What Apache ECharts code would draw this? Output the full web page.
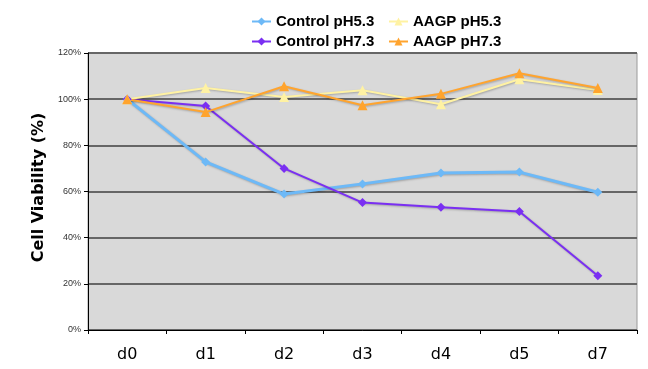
<!DOCTYPE html>
<html><head><meta charset="utf-8">
<script src="https://cdn.jsdelivr.net/npm/echarts@6/dist/echarts.min.js"></script>
<style>html,body{margin:0;padding:0;background:#fff}#c{width:648px;height:369px}</style>
</head><body><div id="c"></div>
<script>
const categories = ['d0','d1','d2','d3','d4','d5','d7'];
const controlPH53 = [100, 72.8, 58.9, 63.3, 68.0, 68.4, 59.7];
const controlPH73 = [100, 97.0, 70.0, 55.2, 53.2, 51.3, 23.5];
const aagpPH53 = [100, 104.8, 100.9, 103.9, 97.8, 108.6, 104.0];
const aagpPH73 = [100, 94.4, 105.6, 97.4, 102.3, 111.2, 104.8];
const yTicks = [0, 20, 40, 60, 80, 100, 120];

const chart = echarts.init(document.getElementById('c'));
function ser(name, data, color, width, symbol, size) {
  return {
    name, type: 'line', data, symbol, symbolSize: size,
    itemStyle: { color },
    lineStyle: { color, width, shadowColor: 'rgba(0,0,0,0.25)', shadowBlur: 2, shadowOffsetX: 1, shadowOffsetY: 1 },
    emphasis: { disabled: true }, animation: false
  };
}
const legendText = { fontFamily: 'Liberation Sans', fontWeight: 'bold', fontSize: 15, color: '#000' };
chart.setOption({
  animation: false,
  legend: [
    { left: 246, top: 9, orient: 'vertical', itemGap: 5, itemWidth: 19, itemHeight: 10,
      data: ['Control pH5.3', 'Control pH7.3'], textStyle: legendText },
    { left: 383, top: 9, orient: 'vertical', itemGap: 5, itemWidth: 19, itemHeight: 10,
      data: ['AAGP pH5.3', 'AAGP pH7.3'], textStyle: legendText }
  ],
  grid: { left: 88, right: 11, top: 53, bottom: 39, containLabel: false,
    show: true, backgroundColor: '#d9d9d9', borderColor: '#9a9a9a', borderWidth: 1 },
  xAxis: {
    type: 'category', data: categories, boundaryGap: true,
    axisLine: { lineStyle: { color: '#000', width: 1 } },
    axisTick: { show: true, length: 4, lineStyle: { color: '#000' } },
    axisLabel: { fontFamily: 'DejaVu Sans', fontSize: 16, color: '#000', margin: 17 }
  },
  yAxis: {
    type: 'value', min: 0, max: 120, interval: 20,
    name: 'Cell Viability (%)', nameLocation: 'middle', nameGap: 41,
    nameTextStyle: { fontFamily: 'DejaVu Sans', fontWeight: 'bold', fontSize: 16, color: '#000', padding: [0, 0, 0, 8] },
    axisLine: { show: true, lineStyle: { color: '#000', width: 1 } },
    axisTick: { show: true, length: 4, lineStyle: { color: '#000' } },
    axisLabel: { fontFamily: 'Liberation Sans', fontSize: 9, color: '#333', margin: 7,
      formatter: v => yTicks.includes(v) ? v + '%' : '' },
    splitLine: { show: true, lineStyle: { color: '#666', width: 2 } }
  },
  series: [
    ser('Control pH5.3', controlPH53, '#6db9f7', 3, 'diamond', 9),
    ser('Control pH7.3', controlPH73, '#7a2ff2', 2, 'diamond', 9),
    ser('AAGP pH5.3', aagpPH53, '#fff2a3', 2, 'triangle', 10),
    ser('AAGP pH7.3', aagpPH73, '#ffa42e', 2, 'triangle', 10)
  ]
});
</script></body></html>
